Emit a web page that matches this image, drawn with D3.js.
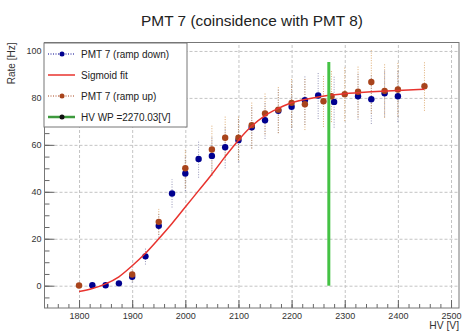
<!DOCTYPE html>
<html>
<head>
<meta charset="utf-8">
<script src="https://cdn.jsdelivr.net/npm/d3@7"></script>
<style>
  body { margin: 0; background: #fff; }
  svg { font-family: "Liberation Sans", Arial, sans-serif; }
</style>
</head>
<body>
<svg id="chart" width="464" height="331"></svg>
<script>
// ramp down points (HV [V], rate [Hz], error)
const hvDown = [1825, 1850, 1875, 1900, 1925, 1950, 1975, 2000, 2025, 2050, 2075, 2100, 2125, 2150, 2175, 2200, 2225, 2250, 2280, 2325, 2350, 2375, 2400];
const rateDown = [0.2, 0.2, 1.0, 3.8, 12.5, 25.5, 39.3, 47.8, 54, 55.3, 59, 62, 67.5, 70.5, 74.5, 76.2, 79, 81, 78.3, 80.7, 79.4, 82, 80.7];
const errDown = [0.6, 0.6, 1.2, 2.5, 3.5, 5, 6, 7.5, 8, 8.5, 9, 9.5, 9, 8, 9.5, 10, 10.5, 10, 11, 10, 10.5, 10, 11];

// ramp up points
const hvUp = [1800, 1900, 1950, 2000, 2050, 2075, 2100, 2125, 2150, 2175, 2200, 2225, 2260, 2275, 2300, 2325, 2350, 2375, 2400, 2450];
const rateUp = [0.1, 4.8, 27.2, 50, 58, 63, 63, 68.4, 73.4, 75, 77.9, 77.3, 78.6, 80.7, 81.6, 82.6, 86.8, 83, 83.6, 85];
const errUp = [0.5, 2.5, 5.5, 8.5, 10.5, 9.5, 9.5, 10, 9, 10, 10.5, 11, 11, 11, 11.5, 11, 13.5, 11.5, 11.5, 10.5];

// sigmoid fit
const fitHv = [1800, 1825, 1850, 1875, 1900, 1925, 1950, 1975, 2000, 2025, 2050, 2075, 2100, 2125, 2150, 2175, 2200, 2225, 2250, 2275, 2300, 2350, 2400, 2450];
const fitRate = [-2.5, -1.2, 0.8, 3.8, 8.5, 13.8, 20, 26.5, 33.5, 40.5, 47.5, 55, 62, 68, 72.5, 75.5, 77.9, 79.3, 80.4, 81.2, 81.8, 82.6, 83.2, 83.7];

// working point
const hvWP = 2270.03;
const wpRange = [0, 95.3];

// axis ticks
const xMajor = [1800, 1900, 2000, 2100, 2200, 2300, 2400, 2500];
const xMinor = d3.range(1740, 2501, 20);
const yMajor = [0, 20, 40, 60, 80, 100];
const yMinor = d3.range(-5, 101, 5);

const legendLabels = ['PMT 7 (ramp down)', 'Sigmoid fit', 'PMT 7 (ramp up)', 'HV WP =2270.03[V]'];

const colDown = '#00008f';
const colUp = '#a8441c';
const colFit = '#e8332e';
const colWP = '#44c244';

// frame of the plot
const frame = {left: 44.5, right: 459, top: 42.5, bottom: 308};
const width = frame.right - frame.left;
const height = frame.bottom - frame.top;

const svg = d3.select('#chart');

const xScale = d3.scaleLinear().domain([1735, 2515]).range([frame.left, frame.right]);
const yScale = d3.scaleLinear().domain([-9.5, 103.6]).range([frame.bottom, frame.top]);

// title
svg.append('text')
  .attr('x', 252).attr('y', 26)
  .attr('text-anchor', 'middle')
  .attr('font-size', 15.4)
  .attr('fill', '#222')
  .text('PMT 7 (coinsidence with PMT 8)');

// grid lines
svg.append('g')
  .attr('transform', `translate(0, ${frame.bottom})`)
  .call(d3.axisBottom(xScale).tickValues(xMajor).tickSize(-height).tickFormat(''))
  .call(g => g.select('.domain').remove())
  .selectAll('line')
    .attr('stroke', '#c4c4c4')
    .attr('stroke-dasharray', '3,2');

svg.append('g')
  .attr('transform', `translate(${frame.left}, 0)`)
  .call(d3.axisLeft(yScale).tickValues(yMajor).tickSize(-width).tickFormat(''))
  .call(g => g.select('.domain').remove())
  .selectAll('line')
    .attr('stroke', '#c4c4c4')
    .attr('stroke-dasharray', '3,2');

// minor and major ticks, pointing into the frame
const xAxisG = svg.append('g').attr('transform', `translate(0, ${frame.bottom})`);
xAxisG.append('g')
  .call(d3.axisBottom(xScale).tickValues(xMinor).tickSize(-4).tickFormat(''))
  .call(g => g.select('.domain').remove());
xAxisG.append('g')
  .call(d3.axisBottom(xScale).tickValues(xMajor).tickSize(-8).tickPadding(5).tickFormat(d3.format('d')))
  .call(g => g.select('.domain').remove());
xAxisG.selectAll('line').attr('stroke', '#666');
xAxisG.selectAll('text').attr('font-size', 9).attr('fill', '#333');

const yAxisG = svg.append('g').attr('transform', `translate(${frame.left}, 0)`);
yAxisG.append('g')
  .call(d3.axisLeft(yScale).tickValues(yMinor).tickSize(-5).tickFormat(''))
  .call(g => g.select('.domain').remove());
yAxisG.append('g')
  .call(d3.axisLeft(yScale).tickValues(yMajor).tickSize(-10).tickPadding(3).tickFormat(d3.format('d')))
  .call(g => g.select('.domain').remove());
yAxisG.selectAll('line').attr('stroke', '#666');
yAxisG.selectAll('text').attr('font-size', 9).attr('fill', '#333');

// frame box
svg.append('rect')
  .attr('x', frame.left).attr('y', frame.top)
  .attr('width', width).attr('height', height)
  .attr('fill', 'none')
  .attr('stroke', '#777');

// axis titles
svg.append('text')
  .attr('x', frame.right).attr('y', 329)
  .attr('text-anchor', 'end')
  .attr('font-size', 10.3)
  .attr('fill', '#333')
  .text('HV [V]');

svg.append('text')
  .attr('transform', `translate(15, ${frame.top}) rotate(-90)`)
  .attr('text-anchor', 'end')
  .attr('font-size', 10)
  .attr('fill', '#333')
  .text('Rate [Hz]');

// data series
const down = hvDown.map((hv, i) => ({hv, rate: rateDown[i], err: errDown[i]}));
const up = hvUp.map((hv, i) => ({hv, rate: rateUp[i], err: errUp[i]}));
const fit = fitHv.map((hv, i) => ({hv, rate: fitRate[i]}));

const plot = svg.append('g');

// error bars (dotted)
const drawErrors = (data, color) => {
  plot.append('g').selectAll('line')
    .data(data)
    .enter().append('line')
      .attr('x1', d => xScale(d.hv))
      .attr('x2', d => xScale(d.hv))
      .attr('y1', d => yScale(d.rate - d.err))
      .attr('y2', d => yScale(d.rate + d.err))
      .attr('stroke', color)
      .attr('stroke-width', 1)
      .attr('stroke-opacity', 0.7)
      .attr('stroke-dasharray', '1,1.5');
};
drawErrors(down, '#6a6a9a');
drawErrors(up, '#d08a3a');

const drawMarkers = (data, color) => {
  plot.append('g').selectAll('circle')
    .data(data)
    .enter().append('circle')
      .attr('cx', d => xScale(d.hv))
      .attr('cy', d => yScale(d.rate))
      .attr('r', 3.2)
      .attr('fill', color);
};
drawMarkers(down, colDown);
drawMarkers(up, colUp);

// fit curve
plot.append('path')
  .datum(fit)
  .attr('fill', 'none')
  .attr('stroke', colFit)
  .attr('stroke-width', 1.5)
  .attr('d', d3.line().x(d => xScale(d.hv)).y(d => yScale(d.rate)).curve(d3.curveMonotoneX));

// working point line
plot.append('line')
  .attr('x1', xScale(hvWP)).attr('x2', xScale(hvWP))
  .attr('y1', yScale(wpRange[0])).attr('y2', yScale(wpRange[1]))
  .attr('stroke', colWP)
  .attr('stroke-width', 3);

// legend
const legend = svg.append('g');
legend.append('rect')
  .attr('x', 44).attr('y', 43)
  .attr('width', 143).attr('height', 84)
  .attr('fill', '#fff')
  .attr('stroke', '#777');

const legendRows = [
  {line: colDown, dash: '1,1.5', marker: colDown},
  {line: colFit, dash: null, marker: null},
  {line: colUp, dash: '1,1.5', marker: colUp},
  {line: '#3d9a3d', dash: null, marker: '#111', width: 2.5}
];
const rowY = [54, 75, 96, 117];

legendRows.forEach((row, i) => {
  const g = legend.append('g').attr('transform', `translate(0, ${rowY[i]})`);
  g.append('line')
    .attr('x1', 48).attr('x2', 75)
    .attr('stroke', row.line)
    .attr('stroke-width', row.width || (row.dash ? 1 : 1.5))
    .attr('stroke-dasharray', row.dash);
  if (row.marker) {
    g.append('circle').attr('cx', 62).attr('r', 2.5).attr('fill', row.marker);
  }
  g.append('text')
    .attr('x', 81).attr('dy', '0.35em')
    .attr('font-size', 10)
    .attr('fill', '#222')
    .text(legendLabels[i]);
});
</script>
</body>
</html>
